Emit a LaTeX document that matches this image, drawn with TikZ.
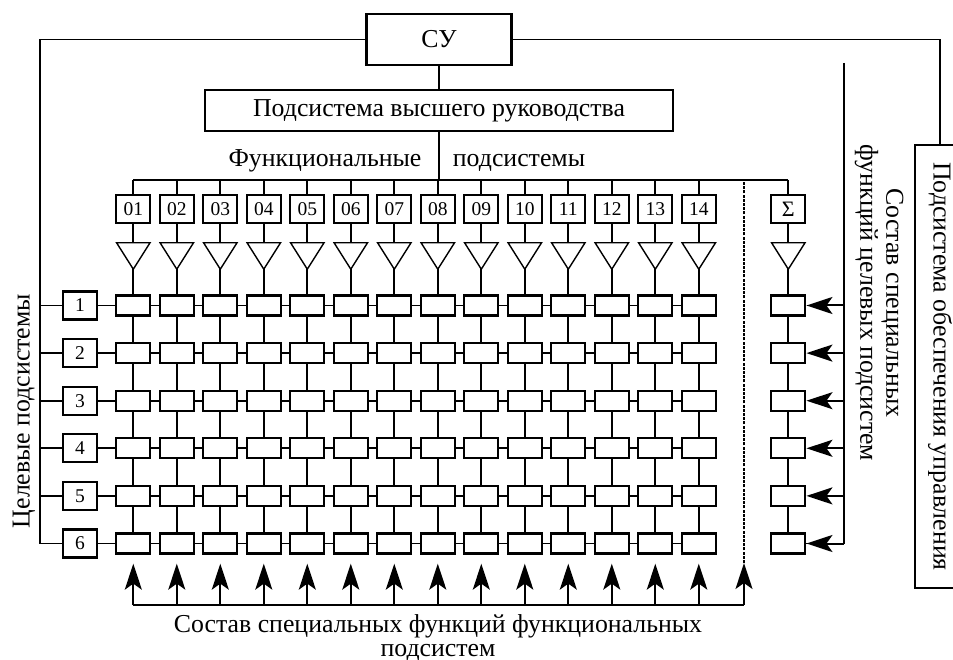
\documentclass[tikz,border=0pt]{standalone}
\usepackage{fontspec}
\setmainfont{Liberation Serif}
\usetikzlibrary{arrows.meta}
\begin{document}
\begin{tikzpicture}[x=1pt,y=-1pt,
 box/.style={draw,line width=2.3pt,inner sep=0pt},
 cell/.style={box,minimum width=34pt,minimum height=20pt},
 numbox/.style={box,minimum width=34pt,minimum height=28pt,font=\fontsize{19.5}{19.5}\selectfont},
 ln/.style={line width=1.7pt},
 arr/.style={line width=2pt,-{Stealth[length=26pt,width=17pt,inset=6pt]}},
 big/.style={font=\fontsize{25.8}{26}\selectfont},
 tri/.style={minimum width=33pt,minimum height=26pt,inner sep=0pt}]
\useasboundingbox (0,0) rectangle (953,660);

% top boxes
\node[box,big,minimum width=145pt,minimum height=51pt] (cu) at (439,39.5) {СУ};
\node[box,big,minimum width=468pt,minimum height=41pt] (hs) at (439,110.5) {Подсистема высшего руководства};
\node[big,anchor=base] (ft1) at (325,167) {Функциональные};
\node[big,anchor=base] (ft2) at (519,167) {подсистемы};

\coordinate (bl) at (133.3,180);
\coordinate (br) at (788.3,180);

% grid columns
\foreach \k in {1,...,14} {
  \pgfmathsetmacro\cx{133.3+(\k-1)*43.5}
  \node[numbox] (f\k) at (\cx,209) {\ifnum\k<10 0\fi\k};
  \node[tri] (t\k) at (\cx,256) {};
  \draw[ln,line width=1.4pt] (t\k.north west) -- (t\k.north east) -- (t\k.south) -- cycle;
  \foreach \r in {1,...,6} {
    \pgfmathsetmacro\cy{305.5+(\r-1)*47.6}
    \node[cell] (c-\r-\k) at (\cx,\cy) {};
  }
}
% sigma column
\node[numbox,font=\fontsize{22}{22}\selectfont] (fs) at (788.3,209) {Σ};
\node[tri] (ts) at (788.3,256) {};
\draw[ln,line width=1.4pt] (ts.north west) -- (ts.north east) -- (ts.south) -- cycle;
\foreach \r in {1,...,6} {
  \pgfmathsetmacro\cy{305.5+(\r-1)*47.6}
  \node[cell] (s\r) at (788.3,\cy) {};
  \node[numbox] (l\r) at (80,\cy) {\r};
}

% connectors top
\draw[ln] (cu.south) -- (hs.north);
\draw[ln] (bl) -- (br);
\draw[ln] (hs.south) -- (hs.south |- bl);
\foreach \k in {1,...,14} {
  \draw[ln] (f\k.north |- bl) -- (f\k.north);
  \draw[ln] (f\k.south) -- (t\k.north);
  \draw[ln] (t\k.south) -- (c-1-\k.north);
  \foreach \r [evaluate=\r as \rn using int(\r+1)] in {1,...,5} {
    \draw[ln] (c-\r-\k.south) -- (c-\rn-\k.north);
  }
}
\draw[ln] (fs.north |- br) -- (fs.north);
\draw[ln] (fs.south) -- (ts.north);
\draw[ln] (ts.south) -- (s1.north);
\foreach \r [evaluate=\r as \rn using int(\r+1)] in {1,...,5} {
  \draw[ln] (s\r.south) -- (s\rn.north);
}
% rows
\foreach \r in {1,...,6} {
  \draw[ln] (l\r.east) -- (c-\r-1.west);
  \foreach \k [evaluate=\k as \kn using int(\k+1)] in {1,...,13} {
    \draw[ln] (c-\r-\k.east) -- (c-\r-\kn.west);
  }
}

% left bus
\coordinate (lbx) at (40,41);
\draw[ln] (cu.west) -| (lbx |- l6.west) -- (l6.west);
\foreach \r in {1,...,5} {
  \draw[ln] (lbx |- l\r.west) -- (l\r.west);
}

% right box
\node[box,big,rotate=-90,minimum width=443pt,minimum height=50pt] (pb) at (940,366.5) {Подсистема обеспечения управления};
\draw[ln] (cu.east) -| (pb.west);

% right arrows
\coordinate (rt) at (844,63);
\draw[ln] (rt) |- (s6.east);
\draw[arr] (rt |- s6.east) -- (s6.east);
\foreach \r in {1,...,5} {
  \draw[arr] (rt |- s\r.east) -- (s\r.east);
}

% bottom bus
\coordinate (bb1) at (133.3,605);
\coordinate (bb2) at (744,605);
\coordinate (dm) at (744,563);
\coordinate (dt) at (744,180);
\draw[ln] (bb1) -- (bb2);
\foreach \k in {1,...,14} {
  \draw[arr,shorten >=9pt] (c-6-\k.south |- bb1) -- (c-6-\k.south);
}
\draw[arr] (bb2) -- (dm);
\draw[line width=1.2pt,dash pattern=on 3pt off 1.2pt] (dm) -- (dt);

% labels
\node[big,rotate=90] (lt) at (24,411) {Целевые подсистемы};
\node[big,rotate=-90,align=center] (rtx) at (879,303) {Состав специальных\\функций целевых подсистем};
\node[big,anchor=base] (bt1) at (438,632) {Состав специальных функций функциональных};
\node[big,anchor=base] (bt2) at (438,656) {подсистем};
\end{tikzpicture}
\end{document}
